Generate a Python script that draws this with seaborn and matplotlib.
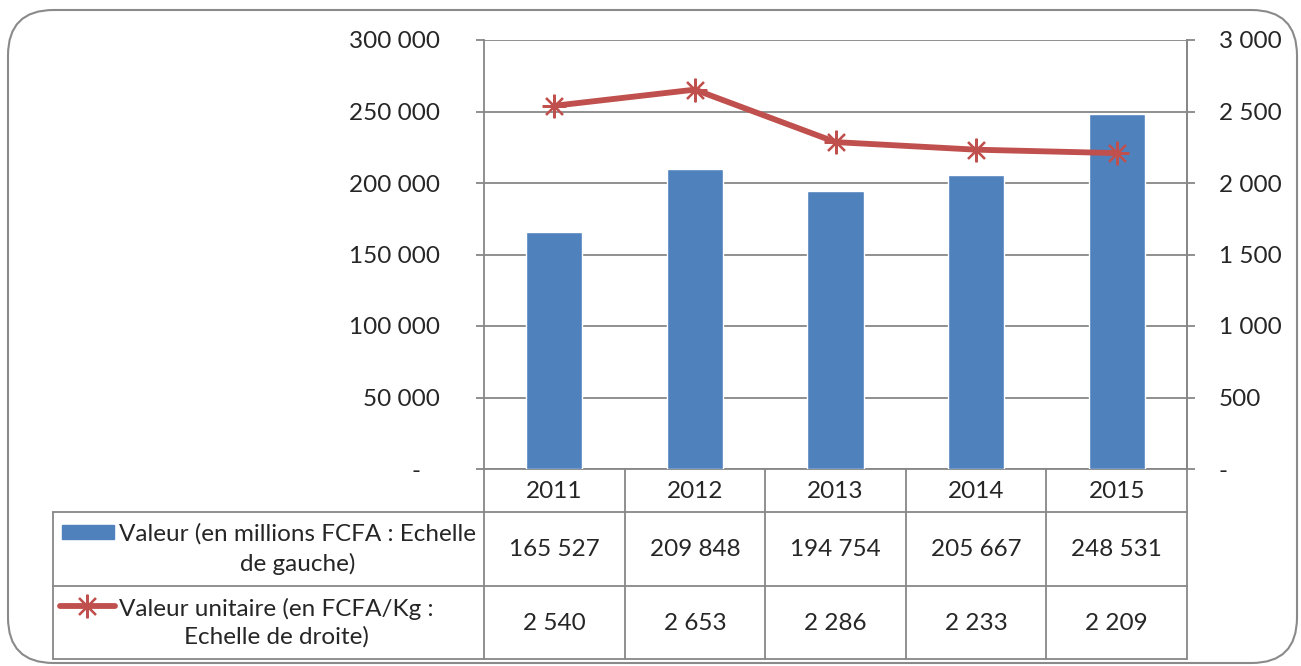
import numpy as np
import pandas as pd
import matplotlib
matplotlib.use('Agg')
import matplotlib.pyplot as plt
import seaborn as sns
from matplotlib.patches import FancyBboxPatch, Rectangle
from matplotlib.lines import Line2D
from matplotlib.ticker import FuncFormatter

# data
years = ['2011', '2012', '2013', '2014', '2015']
valeur = [165527, 209848, 194754, 205667, 248531]
valeur_unitaire = [2540, 2653, 2286, 2233, 2209]
label_bar = 'Valeur (en millions FCFA : Echelle\nde gauche)'
label_line = 'Valeur unitaire (en FCFA/Kg :\nEchelle de droite)'

BLUE = '#4F81BD'
RED = '#C0504D'
GRID = '#878787'

sns.set_style('white')
plt.rcParams['font.family'] = ['Lato', 'DejaVu Sans']
FS = 17.5

W, H = 1301, 666
fig = plt.figure(figsize=(W / 100, H / 100), dpi=100)


def fx(x):
    return x / W


def fy(y):
    return 1 - y / H


def fmt_sp(v):
    return f'{int(v):,}'.replace(',', ' ')


# plot area in pixels
L, R, T, B = 484, 1187, 40, 469
ax = fig.add_axes([fx(L), fy(B), (R - L) / W, (B - T) / H])

df = pd.DataFrame({'annee': years, 'valeur': valeur, 'unit': valeur_unitaire})
sns.barplot(data=df, x='annee', y='valeur', color=BLUE, width=0.4,
            saturation=1, ax=ax, zorder=3)
ax.set_ylim(0, 300000)
ax.set_xlim(-0.5, len(years) - 0.5)
ax.set_yticks(np.arange(0, 300001, 50000))
ax.yaxis.set_major_formatter(FuncFormatter(
    lambda v, p: '-   ' if v == 0 else fmt_sp(v)))
ax.grid(axis='y', color=GRID, linewidth=1.3, zorder=0)
ax.set_axisbelow(True)
ax.set_xlabel('')
ax.set_ylabel('')
ax.set_xticks([])
ax.tick_params(axis='y', length=6, width=1.3, color=GRID, pad=26, labelsize=FS,
               direction='out', left=True)
ax.spines['top'].set_visible(False)
for s in ['left', 'right', 'bottom']:
    ax.spines[s].set_color(GRID)
    ax.spines[s].set_linewidth(1.3)

ax2 = ax.twinx()
sns.lineplot(x=np.arange(len(years)), y=df['unit'], ax=ax2, color=RED,
             linewidth=4.2, marker=(8, 2, 0), markersize=17,
             markeredgewidth=1.6, markeredgecolor=RED, zorder=4)
ax2.set_ylim(0, 3000)
ax2.set_yticks(np.arange(0, 3001, 500))
ax2.yaxis.set_major_formatter(FuncFormatter(
    lambda v, p: '-' if v == 0 else fmt_sp(v)))
ax2.tick_params(axis='y', length=6, width=1.3, color=GRID, pad=17, labelsize=FS,
                direction='out', right=True)
ax2.set_ylabel('')
ax2.set_xlim(-0.5, len(years) - 0.5)
for s in ['top', 'left', 'bottom']:
    ax2.spines[s].set_visible(False)
ax2.spines['right'].set_color(GRID)
ax2.spines['right'].set_linewidth(1.3)

# data table under the chart
cols = np.linspace(L, R, len(years) + 1)
rows = [B, 512, 586, 659]
tab_left = 53


def hline(x0, x1, y):
    fig.add_artist(Line2D([fx(x0), fx(x1)], [fy(y), fy(y)], color=GRID, lw=1.3))


def vline(x, y0, y1):
    fig.add_artist(Line2D([fx(x), fx(x)], [fy(y0), fy(y1)], color=GRID, lw=1.3))


hline(tab_left, R, rows[1])
hline(tab_left, R, rows[2])
hline(tab_left, R, rows[3])
for c in cols:
    vline(c, rows[0], rows[3])
vline(tab_left, rows[1], rows[3])

for i, yr in enumerate(years):
    cx = (cols[i] + cols[i + 1]) / 2
    fig.text(fx(cx), fy(491), yr, ha='center', va='center', fontsize=FS)
    fig.text(fx(cx), fy(549), fmt_sp(valeur[i]), ha='center', va='center', fontsize=FS)
    fig.text(fx(cx), fy(623), fmt_sp(valeur_unitaire[i]), ha='center', va='center', fontsize=FS)

# legend keys in the table
fig.add_artist(Rectangle((fx(62), fy(539)), (114 - 62) / W, 14 / H, color=BLUE))
fig.add_artist(Line2D([fx(60), fx(115)], [fy(606), fy(606)], color=RED, lw=4.2,
                      solid_capstyle='round'))
fig.add_artist(Line2D([fx(87)], [fy(606)], color=RED, marker=(8, 2, 0),
                      markersize=17, markeredgewidth=1.6))
fig.text(fx(119), fy(549), label_bar, ha='left', va='center', multialignment='center',
         fontsize=FS, linespacing=1.42)
fig.text(fx(119), fy(623), label_line, ha='left', va='center', multialignment='center',
         fontsize=FS, linespacing=1.35)

# rounded frame
fig.add_artist(FancyBboxPatch((fx(8), fy(663)), (1297 - 8) / W, (663 - 10) / H,
                              boxstyle='round,pad=0,rounding_size=0.035',
                              transform=fig.transFigure, fill=False,
                              edgecolor='#8a8a8a', linewidth=1.5,
                              mutation_aspect=W / H))

fig.savefig('out.png', dpi=100)
